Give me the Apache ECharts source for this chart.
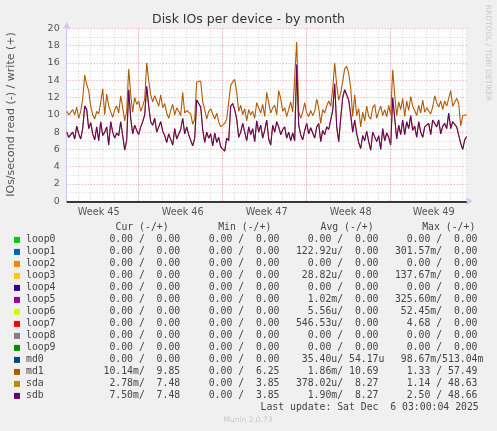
<!DOCTYPE html>
<html><head><meta charset="utf-8">
<script src="https://cdn.jsdelivr.net/npm/echarts@6/dist/echarts.min.js"></script>
<style>html,body{margin:0;padding:0;background:#f0f0f0;}#c{width:497px;height:431px;}</style>
</head><body><div id="c"></div>
<script>
const title = 'Disk IOs per device - by month';
const yAxisName = 'IOs/second read (-) / write (+)';
const stepHours = 4;            // spacing of the samples (hours)
const spanHours = 800;
const yMin = 0, yMax = 20, yInterval = 2;
const weekStartHours = [144, 312, 480, 648];
const weekLabels = ['Week 45', 'Week 46', 'Week 47', 'Week 48', 'Week 49'];
const weekLabelHours = [64, 232, 400, 568, 734];

const md1Write = [
10.4,10.0,9.8,10.6,10.0,10.9,9.6,10.4,11.8,14.6,
13.5,12.8,11.0,10.0,9.5,10.4,10.1,11.4,13.0,10.0,
12.4,11.0,10.8,9.7,10.6,11.0,10.2,12.2,10.8,9.3,
10.4,15.3,12.3,10.3,12.0,11.2,11.6,10.4,11.0,11.8,
16.0,14.0,12.3,11.5,12.2,11.6,11.0,12.3,10.8,11.3,
10.2,9.6,10.5,11.2,10.0,10.8,10.4,9.9,12.6,10.2,
10.5,10.3,10.1,8.9,9.5,13.8,14.0,13.9,
11.5,10.6,9.5,10.4,10.7,10.1,9.5,10.2,9.2,8.6,
8.8,9.0,9.5,9.3,13.4,13.8,14.1,12.6,10.4,11.1,
10.0,10.7,9.3,10.6,10.0,10.4,9.6,11.4,11.6,10.2,
11.2,9.8,12.6,11.4,10.2,10.8,11.1,10.0,12.8,11.9,
10.4,10.8,9.8,10.0,11.5,10.3,10.3,18.4,10.4,9.6,
10.3,11.4,10.2,9.8,10.5,9.9,10.4,11.8,10.8,9.0,
10.6,10.2,11.0,11.6,11.0,13.0,16.0,
13.4,11.7,12.5,13.9,15.3,15.6,14.8,13.1,9.8,12.3,
9.9,10.7,8.6,10.3,9.3,11.0,9.8,9.5,10.8,11.2,
9.6,10.4,11.0,9.9,10.6,9.8,11.1,10.0,15.2,12.3,
9.9,11.5,10.6,11.9,9.8,11.6,10.5,12.1,11.0,10.5,
9.9,11.1,10.2,11.7,10.3,10.8,11.0,10.1,10.9,12.2,
11.4,10.9,11.6,10.6,11.6,11.0,11.9,12.8,11.0,11.2,
11.9,11.3,8.7,9.9,10.0,10.0
];
const sdbWrite = [
8.0,7.4,7.7,8.0,7.2,8.7,7.8,7.2,8.4,11.0,
10.6,8.4,9.1,7.8,7.1,8.6,7.0,9.2,7.6,8.0,
8.6,6.5,9.2,8.0,7.3,7.9,7.6,9.2,7.6,5.9,
7.1,12.9,9.6,7.8,8.8,8.2,7.7,8.6,9.2,10.0,
13.3,11.0,9.2,8.8,9.6,8.0,8.6,9.2,8.1,7.6,
6.8,7.8,7.6,6.5,8.4,7.2,7.4,8.3,9.6,7.8,
8.6,7.7,7.5,6.4,7.3,11.7,11.3,10.9,
8.3,6.8,8.0,7.3,7.8,6.4,7.9,6.8,7.4,6.3,
6.5,5.8,7.3,7.0,11.0,11.3,10.6,9.5,7.4,8.0,
9.0,8.0,7.0,8.6,7.7,8.4,6.9,9.3,8.0,8.8,
7.3,8.2,9.4,7.2,6.5,8.8,8.0,9.2,8.6,7.7,
8.3,8.6,7.3,8.0,7.0,7.9,7.0,15.8,8.8,7.7,
7.1,8.2,9.0,7.8,8.5,7.9,7.3,8.6,9.0,6.9,
8.2,7.7,8.6,8.3,8.4,10.5,13.6,
8.6,6.9,9.6,12.0,12.9,12.8,11.7,10.0,8.0,9.4,
7.8,6.8,6.1,7.6,7.0,8.1,6.9,5.9,8.0,8.2,
6.9,7.6,6.0,8.4,7.0,7.9,7.4,6.5,12.0,9.6,
7.2,8.8,7.7,9.4,7.7,9.2,8.4,9.9,8.2,8.7,
7.4,9.2,8.0,7.4,8.6,8.4,9.0,7.7,9.4,9.4,
8.6,9.4,7.8,8.7,9.0,8.4,10.2,8.4,9.2,9.0,
8.6,8.4,6.7,6.0,7.1,7.5
];
// sda writes are indistinguishable from sdb in the picture (mirrored disks)
const sdaWrite = sdbWrite;

const devNames  = ['loop0','loop1','loop2','loop3','loop4','loop5','loop6','loop7','loop8','loop9','md0','md1','sda','sdb'];
const devColors = ['#00CC00','#0066B3','#FF8000','#FFCC00','#330099','#990099','#CCFF00','#FF0000','#808080','#008F00','#00487D','#B35A00','#B38F00','#6B006B'];
const curRead  = ['0.00','0.00','0.00','0.00','0.00','0.00','0.00','0.00','0.00','0.00','0.00','10.14m','2.78m','7.50m'];
const curWrite = ['0.00','0.00','0.00','0.00','0.00','0.00','0.00','0.00','0.00','0.00','0.00','9.85','7.48','7.48'];
const minRead  = ['0.00','0.00','0.00','0.00','0.00','0.00','0.00','0.00','0.00','0.00','0.00','0.00','0.00','0.00'];
const minWrite = ['0.00','0.00','0.00','0.00','0.00','0.00','0.00','0.00','0.00','0.00','0.00','6.25','3.85','3.85'];
const avgRead  = ['0.00','122.92u','0.00','28.82u','0.00','1.02m','5.56u','546.53u','0.00','0.00','35.40u','1.86m','378.02u','1.90m'];
const avgWrite = ['0.00','0.00','0.00','0.00','0.00','0.00','0.00','0.00','0.00','0.00','54.17u','10.69','8.27','8.27'];
const maxRead  = ['0.00','301.57m','0.00','137.67m','0.00','325.60m','52.45m','4.68','0.00','0.00','98.67m','1.33','1.14','2.50'];
const maxWrite = ['0.00','0.00','0.00','0.00','0.00','0.00','0.00','0.00','0.00','0.00','513.04m','57.49','48.63','48.66'];
const colHeaders = ['Cur (-/+)','Min (-/+)','Avg (-/+)','Max (-/+)'];
const lastUpdate = 'Last update: Sat Dec  6 03:00:04 2025';
const versionText = 'Munin 2.0.73';
const watermark = 'RRDTOOL / TOBI OETIKER';

const toPairs = arr => arr.map((v, i) => [i * stepHours, v]);
function fmt(s) {
  const m = s.match(/^([\d.]+)([a-zA-Z]?)$/);
  return m[1].padStart(6, ' ') + (m[2] || ' ');
}
const mono = '"DejaVu Sans Mono", monospace';
const sans = '"DejaVu Sans", sans-serif';

const graphics = [];
graphics.push({type:'text', style:{text:title, x:248.5, y:19.5, fontSize:12.5, fontFamily:sans, fill:'#333', align:'center', verticalAlign:'middle'}});
graphics.push({type:'text', x:11, y:114.5, rotation:Math.PI/2, style:{text:yAxisName, x:0, y:0, fontSize:11, fontFamily:sans, fill:'#555', align:'center', verticalAlign:'middle'}});
graphics.push({type:'text', x:488, y:53, rotation:-Math.PI/2, style:{text:watermark, x:0, y:0, fontSize:7.5, fontFamily:sans, fill:'#c8c8c8', align:'center', verticalAlign:'middle'}});

const legendFont = 9.8;
const headerX = [115.5, 218.2, 320.5, 422.2];
const colLeft = [97.6, 196.9, 295.9, 394.9];
colHeaders.forEach((h, k) => graphics.push({type:'text', style:{text:h, x:headerX[k], y:227.7, fontSize:legendFont, fontFamily:mono, fill:'#444', verticalAlign:'middle'}}));
const cols = [[curRead,curWrite],[minRead,minWrite],[avgRead,avgWrite],[maxRead,maxWrite]];
devNames.forEach((n, i) => {
  const yc = 239.7 + 12 * i;
  graphics.push({type:'rect', shape:{x:14, y:yc - 2.8, width:6, height:6}, style:{fill:devColors[i]}});
  graphics.push({type:'text', style:{text:n, x:26, y:yc, fontSize:legendFont, fontFamily:mono, fill:'#444', verticalAlign:'middle'}});
  cols.forEach((c, k) => {
    graphics.push({type:'text', style:{text:fmt(c[0][i]) + '/' + fmt(c[1][i]), x:colLeft[k], y:yc, fontSize:legendFont, fontFamily:mono, fill:'#444', verticalAlign:'middle'}});
  });
});
graphics.push({type:'text', style:{text:lastUpdate, x:260.5, y:407.7, fontSize:legendFont, fontFamily:mono, fill:'#444', verticalAlign:'middle'}});
graphics.push({type:'text', style:{text:versionText, x:248, y:419.7, fontSize:7.5, fontFamily:sans, fill:'#c8c8c8', align:'center', verticalAlign:'middle'}});

const axisColor = '#c8c8f0';
const chart = echarts.init(document.getElementById('c'));
chart.setOption({
  backgroundColor: '#f0f0f0',
  animation: false,
  grid: {left:66.7, right:30.3, top:28.3, bottom:229.7, show:true, backgroundColor:'#ffffff', borderWidth:0},
  xAxis: [
    {type:'value', min:0, max:spanHours, interval:24,
     axisLine:{show:true, onZero:false, lineStyle:{color:axisColor, width:1}, symbol:['none','arrow'], symbolSize:[6,7], symbolOffset:[0,6]},
     axisTick:{show:false}, axisLabel:{show:false},
     splitLine:{show:true, lineStyle:{color:'#d2d2d2', type:[1,2], width:1}}},
    {type:'value', min:0, max:spanHours, interval:2, position:'bottom',
     axisLine:{show:false}, axisTick:{show:false}, splitLine:{show:false},
     axisLabel:{show:true, margin:6, fontSize:9.7, fontFamily:sans, color:'#555',
       formatter: v => { const k = weekLabelHours.indexOf(Math.round(v)); return k >= 0 ? weekLabels[k] : ''; }}}
  ],
  yAxis: {type:'value', min:yMin, max:yMax, interval:yInterval,
    axisLine:{show:true, lineStyle:{color:axisColor, width:1}, symbol:['none','arrow'], symbolSize:[6,7], symbolOffset:[0,6]},
    axisTick:{show:false},
    axisLabel:{margin:7, fontSize:9.5, fontFamily:sans, color:'#555'},
    splitLine:{show:true, lineStyle:{color:'rgba(240,110,110,0.65)', type:[1,2], width:1}},
    minorTick:{show:false, splitNumber:2},
    minorSplitLine:{show:true, lineStyle:{color:'#d2d2d2', type:[1,2], width:1}}},
  series: [
    {type:'line', name:'weeks', data:[], z:1, silent:true,
     markLine:{silent:true, symbol:['none','none'], label:{show:false}, animation:false,
       lineStyle:{color:'rgba(240,110,110,0.65)', type:[1,2], width:1},
       data: weekStartHours.map(h => ({xAxis:h}))}},
    {type:'line', name:'md1', data:toPairs(md1Write), showSymbol:false, z:3, lineStyle:{color:devColors[11], width:1.1}, itemStyle:{color:devColors[11]}},
    {type:'line', name:'sda', data:toPairs(sdaWrite), showSymbol:false, z:3, lineStyle:{color:devColors[12], width:1.1}, itemStyle:{color:devColors[12]}},
    {type:'line', name:'sdb', data:toPairs(sdbWrite), showSymbol:false, z:3, lineStyle:{color:devColors[13], width:1.1}, itemStyle:{color:devColors[13]},
     markLine:{silent:true, symbol:['none','none'], label:{show:false}, animation:false,
       lineStyle:{color:'#000', type:'solid', width:1.5}, data:[{yAxis:0}]}}
  ],
  graphic: graphics
});
</script></body></html>
